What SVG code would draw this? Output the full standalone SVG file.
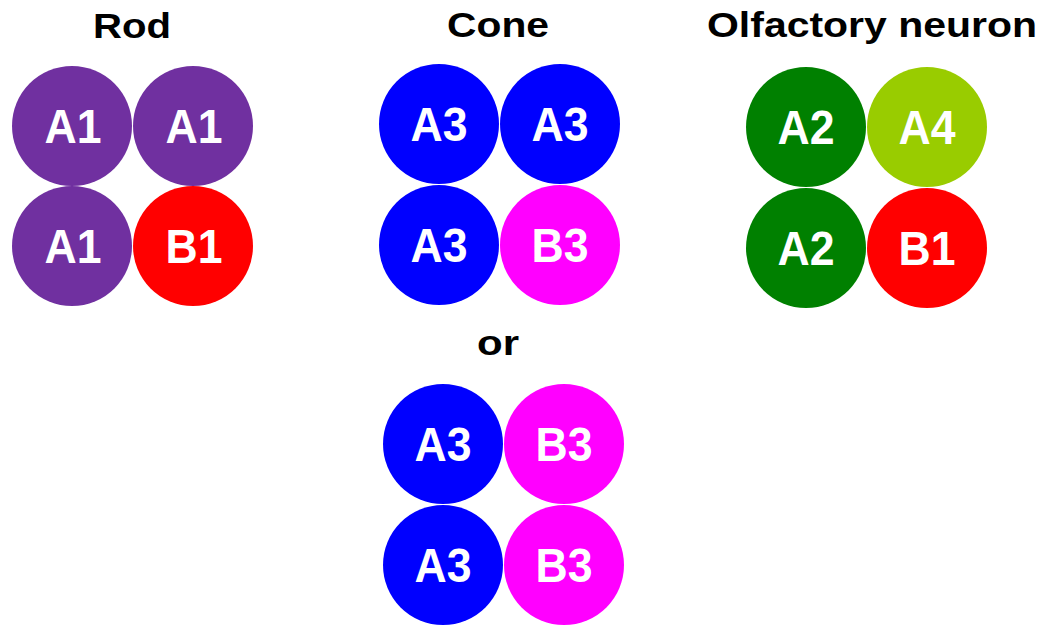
<svg xmlns="http://www.w3.org/2000/svg" width="1042" height="626" viewBox="0 0 1042 626">
<style>
.t{font-family:"Liberation Sans",Arial,sans-serif;font-weight:bold;font-size:34.5px;fill:#000;text-anchor:middle}
.l{font-family:"Liberation Sans",Arial,sans-serif;font-weight:bold;font-size:48px;fill:#fff;text-anchor:middle}
.p{fill:#7030A0}.r{fill:#FF0000}.b{fill:#0000FF}.m{fill:#FF00FF}.g{fill:#008000}.lg{fill:#99CC00}
</style>
<rect width="1042" height="626" fill="#fff"/>
<g id="titles">
<text class="t" x="132" y="37.5" textLength="78" lengthAdjust="spacingAndGlyphs">Rod</text>
<text class="t" x="498" y="37" textLength="102" lengthAdjust="spacingAndGlyphs">Cone</text>
<text class="t" x="872" y="37" textLength="330" lengthAdjust="spacingAndGlyphs">Olfactory neuron</text>
<text class="t" x="498" y="355" textLength="42" lengthAdjust="spacingAndGlyphs">or</text>
</g>
<g id="rod">
<g id="rod-a1-1"><circle class="p" cx="72" cy="126" r="60"/><text class="l" x="73" y="142.5" textLength="57" lengthAdjust="spacingAndGlyphs">A1</text></g>
<g id="rod-a1-2"><circle class="p" cx="193" cy="126" r="60"/><text class="l" x="194" y="142.5" textLength="57" lengthAdjust="spacingAndGlyphs">A1</text></g>
<g id="rod-a1-3"><circle class="p" cx="72" cy="246" r="60"/><text class="l" x="73" y="262.5" textLength="57" lengthAdjust="spacingAndGlyphs">A1</text></g>
<g id="rod-b1"><circle class="r" cx="193" cy="246" r="60"/><text class="l" x="194" y="262.5" textLength="57" lengthAdjust="spacingAndGlyphs">B1</text></g>
</g>
<g id="cone">
<g id="cone-a3-1"><circle class="b" cx="439" cy="124" r="60"/><text class="l" x="439" y="140.5" textLength="57" lengthAdjust="spacingAndGlyphs">A3</text></g>
<g id="cone-a3-2"><circle class="b" cx="560" cy="124" r="60"/><text class="l" x="560" y="140.5" textLength="57" lengthAdjust="spacingAndGlyphs">A3</text></g>
<g id="cone-a3-3"><circle class="b" cx="439" cy="245" r="60"/><text class="l" x="439" y="261.5" textLength="57" lengthAdjust="spacingAndGlyphs">A3</text></g>
<g id="cone-b3"><circle class="m" cx="560" cy="245" r="60"/><text class="l" x="560" y="261.5" textLength="57" lengthAdjust="spacingAndGlyphs">B3</text></g>
</g>
<g id="olfactory">
<g id="olf-a2-1"><circle class="g" cx="806" cy="127" r="60"/><text class="l" x="806" y="143.5" textLength="57" lengthAdjust="spacingAndGlyphs">A2</text></g>
<g id="olf-a4"><circle class="lg" cx="927" cy="127" r="60"/><text class="l" x="927" y="143.5" textLength="57" lengthAdjust="spacingAndGlyphs">A4</text></g>
<g id="olf-a2-2"><circle class="g" cx="806" cy="248" r="60"/><text class="l" x="806" y="264.5" textLength="57" lengthAdjust="spacingAndGlyphs">A2</text></g>
<g id="olf-b1"><circle class="r" cx="927" cy="248" r="60"/><text class="l" x="927" y="264.5" textLength="57" lengthAdjust="spacingAndGlyphs">B1</text></g>
</g>
<g id="cone-alt">
<g id="alt-a3-1"><circle class="b" cx="443" cy="444" r="60"/><text class="l" x="443" y="460.5" textLength="57" lengthAdjust="spacingAndGlyphs">A3</text></g>
<g id="alt-b3-1"><circle class="m" cx="564" cy="444" r="60"/><text class="l" x="564" y="460.5" textLength="57" lengthAdjust="spacingAndGlyphs">B3</text></g>
<g id="alt-a3-2"><circle class="b" cx="443" cy="565" r="60"/><text class="l" x="443" y="581.5" textLength="57" lengthAdjust="spacingAndGlyphs">A3</text></g>
<g id="alt-b3-2"><circle class="m" cx="564" cy="565" r="60"/><text class="l" x="564" y="581.5" textLength="57" lengthAdjust="spacingAndGlyphs">B3</text></g>
</g>
<g id="connectors"/>
</svg>
